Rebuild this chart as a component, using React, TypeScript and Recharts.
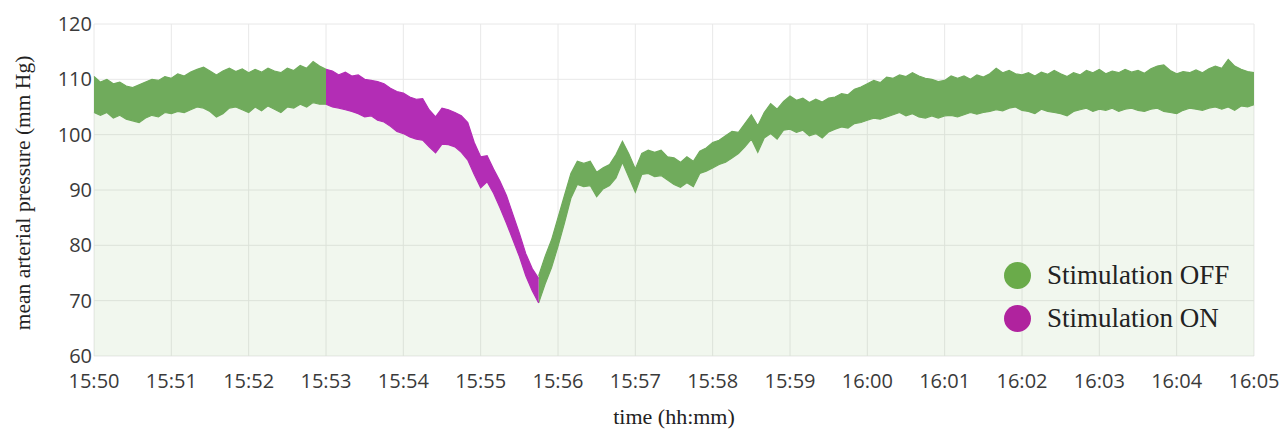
import { Area, CartesianGrid, ComposedChart, XAxis, YAxis } from 'recharts'

// seconds between samples
const STEP = 5

// [low, high] envelope of the pressure trace, one pair per sample
const offBefore: [number, number][] = [
  [104, 110.5], [103.5, 109.5], [104, 110], [103, 109.2], [103.5, 109.5], [102.8, 108.8], [102.5, 108.5], [102.2, 109], [103, 109.5], [103.5, 110],
  [103.2, 109.8], [104, 110.5], [103.8, 110.2], [104.2, 111], [104, 110.6], [104.5, 111.3], [105, 111.8], [104.8, 112.2], [104.2, 111.5], [103.2, 110.8],
  [103.8, 111.5], [104.8, 112], [105, 111.4], [104.5, 111.9], [104, 111.2], [105, 111.8], [104.3, 111.3], [105.2, 112], [104.6, 111.5], [104, 111.2],
  [105, 112], [104.8, 111.6], [105.5, 112.5], [105, 112], [105.8, 113.2], [105.5, 112.4], [105.5, 111.8],
]

const onPhase: [number, number][] = [
  [105.5, 111.8], [105, 111.5], [104.8, 110.8], [104.5, 111.3], [104.2, 110.6], [103.8, 110.8], [103.2, 110], [103.4, 109.8], [102.6, 109.6], [102.3, 109.2],
  [101.5, 108.4], [100.6, 107.8], [100.2, 107.5], [99.6, 106.8], [99.2, 106.4], [99, 106.5], [97.8, 104.5], [96.7, 103.2], [98.3, 104.8], [98.2, 104.5],
  [97.8, 104], [96.8, 103.4], [95.4, 102.2], [92.8, 98.6], [90.4, 96], [91.5, 96.2], [89.4, 93.8], [86.8, 91.6], [84, 89], [81, 85.6],
  [78, 82.2], [74.5, 78.5], [71.8, 75.8], [69.6, 74],
]

const offAfter: [number, number][] = [
  [69.6, 74.5], [73, 78], [76, 81], [79.8, 85], [84, 89], [88.5, 93], [91, 95.2], [90.6, 94.8], [90.8, 95.2], [88.8, 93.2],
  [90.2, 94], [90.8, 94.6], [92.2, 96.4], [95, 98.8], [92.3, 96.5], [89.6, 93.8], [92.8, 96.6], [93, 97.2], [92.4, 96.8], [92.6, 97.2],
  [91.8, 96], [91, 95.8], [90.5, 95], [91.3, 96], [90.6, 95.2], [93, 97], [93.4, 97.6], [94, 98.6], [94.6, 99], [95, 99.8],
  [95.8, 100.6], [96.6, 100.4], [97.8, 102], [99.2, 103.6], [96.8, 101.6], [99.4, 104], [100.2, 105.6], [99.2, 104.6], [100.8, 106], [101, 107],
  [100.4, 106.2], [100.8, 106.6], [99.8, 105.8], [100.2, 106.4], [99.4, 105.9], [100.5, 106.6], [101, 106.8], [101.4, 107.4], [101.2, 107.2], [102, 108.2],
  [102.2, 108.6], [102.6, 109.2], [103, 109.8], [102.8, 109.4], [103.2, 110.4], [103.6, 110.2], [104, 110.8], [103.4, 110.5], [103.8, 111.2], [103.2, 110.6],
  [103, 110.2], [103.4, 110], [103, 109.6], [103.4, 109.8], [103.5, 110.6], [103.2, 110.2], [103.6, 110.6], [104, 110], [103.7, 110.8], [104, 110.4],
  [104.2, 111], [104.5, 112], [104.3, 111.2], [104.8, 111.6], [105, 111], [104.4, 110.8], [104.2, 111.2], [103.8, 110.6], [104.6, 111.3], [104.2, 110.9],
  [104, 111.6], [103.8, 111], [103.4, 110.5], [104.2, 111.2], [104.5, 110.8], [104.8, 111.6], [104.2, 111.2], [104.6, 111.8], [104.4, 111], [104.8, 111.5],
  [104.2, 111.2], [104.6, 111.8], [104.8, 111.3], [104.4, 111.6], [104.2, 111.1], [104.6, 111.9], [104.8, 112.4], [104.2, 112.6], [104, 111.6], [103.8, 111],
  [104.4, 111.4], [104.8, 111.2], [104.6, 111.7], [104.4, 111.2], [104.8, 111.9], [105, 112.4], [104.6, 112], [105, 113.6], [104.4, 112.4], [105.2, 111.8],
  [105, 111.4], [105.4, 111.2],
]

const timeLabels = [
  '15:50', '15:51', '15:52', '15:53', '15:54', '15:55', '15:56', '15:57',
  '15:58', '15:59', '16:00', '16:01', '16:02', '16:03', '16:04', '16:05',
]
const pressureTicks = [60, 70, 80, 90, 100, 110, 120]

const legendItems = [
  { label: 'Stimulation OFF', color: '#6aab4a' },
  { label: 'Stimulation ON', color: '#b0239e' },
]

const onStart = offBefore.length - 1
const onEnd = onStart + onPhase.length - 1

const rows = Array.from({ length: onEnd + offAfter.length }, (_, i) => {
  const off = i <= onStart ? offBefore[i] : i >= onEnd ? offAfter[i - onEnd] : null
  const on = i >= onStart && i <= onEnd ? onPhase[i - onStart] : null
  const top = Math.max(off ? off[1] : 0, on ? on[1] : 0)
  return { t: i * STEP, off, on, top }
})

const tickStyle = { fill: '#3a3a3a', fontSize: 20, fontFamily: '"Open Sans", sans-serif' }
const serif = '"Liberation Serif", "Times New Roman", serif'

// legend sits over the lower right of the plot, outside the chart's layout
function StimLegend() {
  return (
    <div
      style={{
        position: 'absolute',
        left: 1004,
        top: 254,
        fontFamily: serif,
        fontSize: 27,
        color: '#222',
      }}
    >
      {legendItems.map((item) => (
        <div key={item.label} style={{ display: 'flex', alignItems: 'center', height: 43 }}>
          <span
            style={{
              width: 27,
              height: 27,
              borderRadius: '50%',
              background: item.color,
              marginRight: 16,
              display: 'inline-block',
            }}
          />
          <span>{item.label}</span>
        </div>
      ))}
    </div>
  )
}

export default function App() {
  return (
    <div style={{ position: 'absolute', left: 0, top: 0, width: 1285, height: 433, background: '#fff' }}>
      <ComposedChart width={1285} height={433} data={rows} margin={{ top: 24, right: 31, left: 0, bottom: 0 }}>
        <CartesianGrid stroke="#e8e8e8" strokeWidth={1} />
        <XAxis
          dataKey="t"
          type="number"
          domain={[0, 900]}
          ticks={timeLabels.map((_, i) => i * 60)}
          tickFormatter={(v: number) => timeLabels[Math.round(v / 60)]}
          axisLine={false}
          tickLine={false}
          tickMargin={12}
          tick={tickStyle}
          height={77}
          interval={0}
          label={{
            value: 'time (hh:mm)',
            position: 'insideBottom',
            offset: 9,
            style: { fontFamily: serif, fontSize: 22, fill: '#222' },
          }}
        />
        <YAxis
          type="number"
          domain={[60, 120]}
          ticks={pressureTicks}
          axisLine={false}
          tickLine={false}
          tickSize={0}
          tickMargin={2}
          tick={tickStyle}
          width={94}
          interval={0}
          label={{
            value: 'mean arterial pressure (mm Hg)',
            angle: -90,
            position: 'insideLeft',
            offset: 22,
            dy: 3,
            style: { fontFamily: serif, fontSize: 21.5, fill: '#222', textAnchor: 'middle' },
          }}
        />
        <Area
          dataKey="top"
          type="linear"
          stroke="none"
          fill="#71ad5a"
          fillOpacity={0.1}
          isAnimationActive={false}
        />
        <Area
          dataKey="off"
          type="linear"
          stroke="#70ab5c"
          strokeWidth={1.2}
          fill="#70ab5c"
          fillOpacity={1}
          isAnimationActive={false}
        />
        <Area
          dataKey="on"
          type="linear"
          stroke="#b32db5"
          strokeWidth={1.2}
          fill="#b32db5"
          fillOpacity={1}
          isAnimationActive={false}
        />
      </ComposedChart>
      <StimLegend />
    </div>
  )
}
